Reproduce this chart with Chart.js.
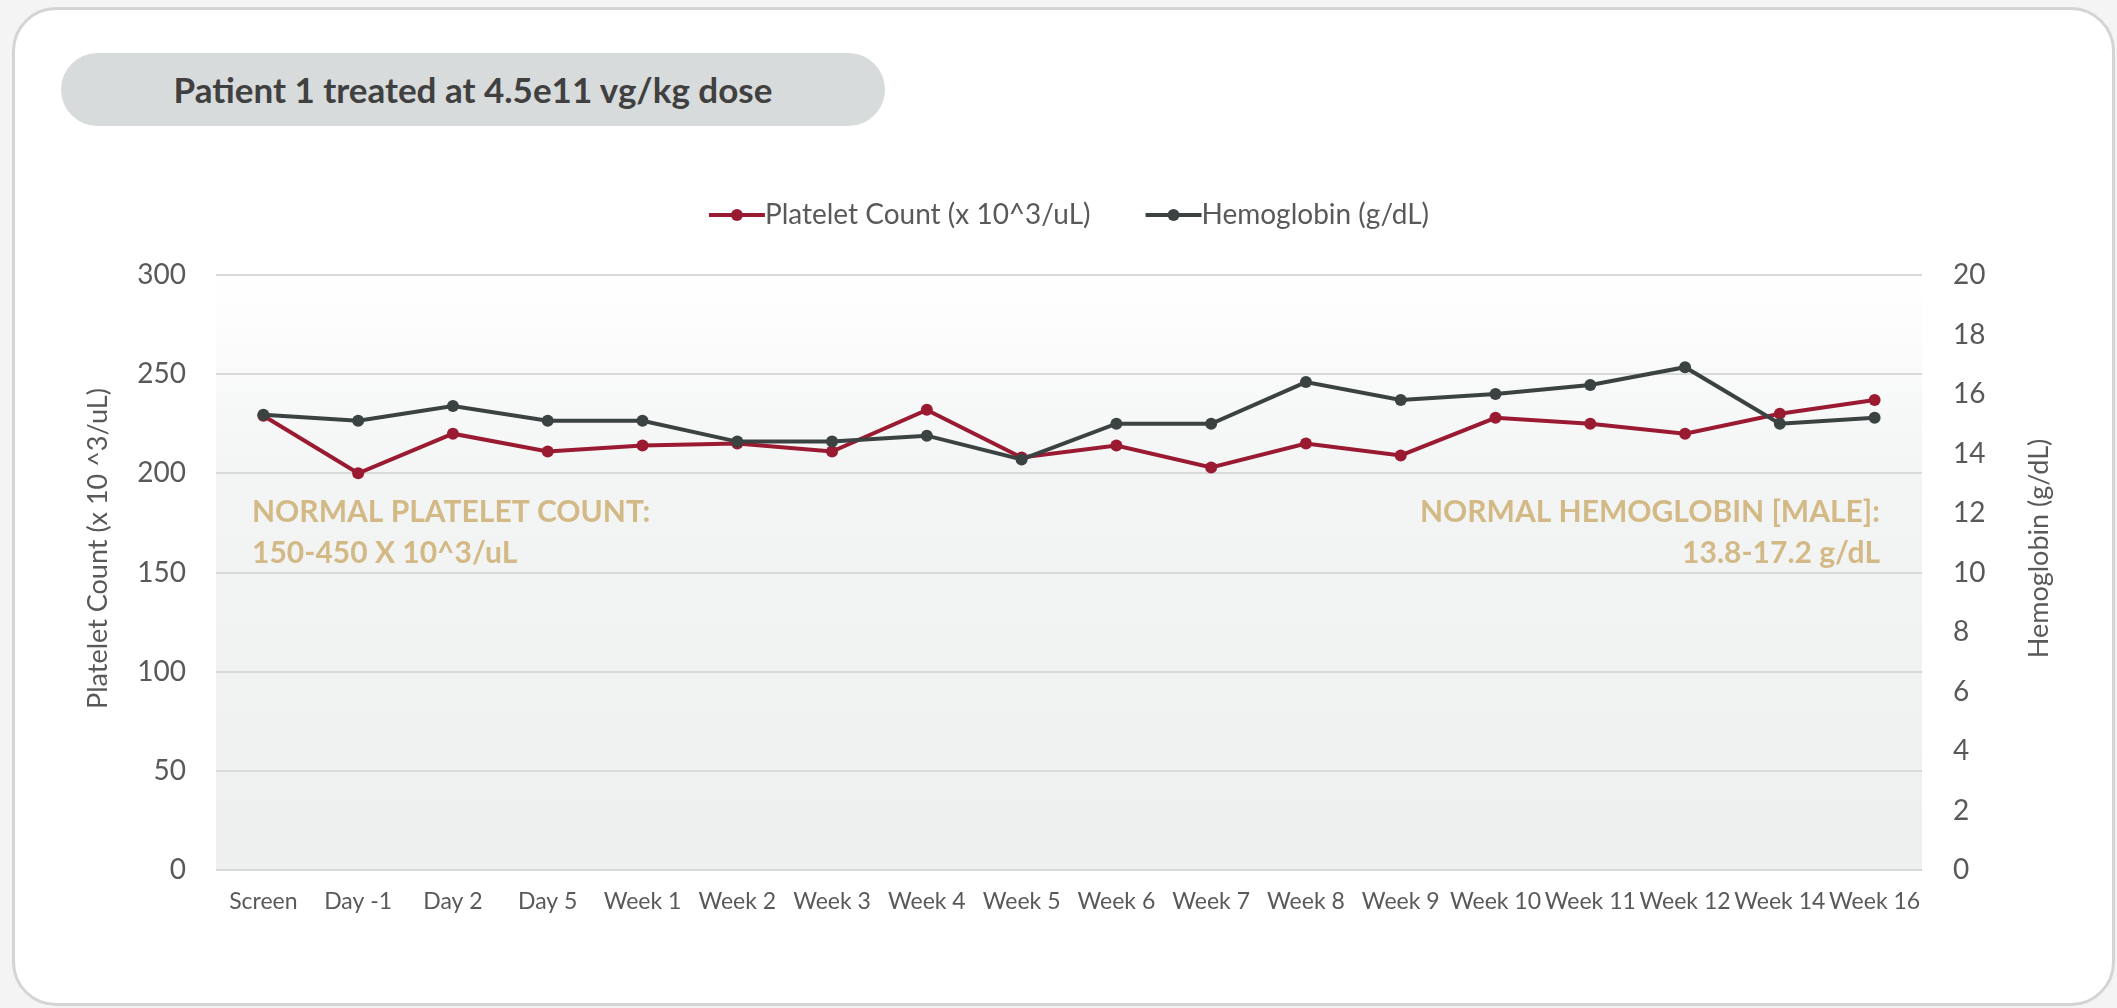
<!DOCTYPE html>
<html>
<head>
<meta charset="utf-8">
<script src="https://cdn.jsdelivr.net/npm/chart.js@4.4.0/dist/chart.umd.min.js"></script>
<style>
    html, body { margin: 0; padding: 0; }
    body {
        width: 2117px; height: 1008px; overflow: hidden; position: relative;
        background: #f4f4f4; font-family: Lato, "Open Sans", sans-serif;
    }
    .card {
        position: absolute; left: 12px; top: 7px; width: 2097px; height: 993px;
        background: #fff; border: 3px solid #d4d4d4; border-radius: 44px;
    }
    .pill {
        position: absolute; left: 61px; top: 53px; width: 824px; height: 73px;
        line-height: 73px; border-radius: 37px; background: #d8dbdb;
        color: #404040; font-weight: bold; font-size: 35px; text-align: center;
    }
    .wrap { position: absolute; left: 0; top: 0; width: 2117px; height: 1008px; }
</style>
</head>
<body>
<div class="card"></div>
<div class="pill">Patient 1 treated at 4.5e11 vg/kg dose</div>
<div class="wrap"><canvas id="labChart"></canvas></div>

<script>
// Dữ liệu
const visits = ['Screen', 'Day -1', 'Day 2', 'Day 5', 'Week 1', 'Week 2', 'Week 3', 'Week 4', 'Week 5',
    'Week 6', 'Week 7', 'Week 8', 'Week 9', 'Week 10', 'Week 11', 'Week 12', 'Week 14', 'Week 16'];
const plateletCount = [229, 200, 220, 211, 214, 215, 211, 232, 208, 214, 203, 215, 209, 228, 225, 220, 230, 237];
const hemoglobin = [15.3, 15.1, 15.6, 15.1, 15.1, 14.4, 14.4, 14.6, 13.8, 15.0, 15.0, 16.4, 15.8, 16.0, 16.3, 16.9, 15.0, 15.2];
const plateletTicks = [0, 50, 100, 150, 200, 250, 300];
const hemoglobinTicks = [0, 2, 4, 6, 8, 10, 12, 14, 16, 18, 20];

const RED = '#9a1b31';
const DARK = '#3b4242';
const TAN = '#d3b986';
const GREY_TEXT = '#595959';

Chart.defaults.font.family = 'Lato, "Open Sans", sans-serif';
Chart.defaults.color = GREY_TEXT;

// Nền vùng vẽ (gradient trắng -> xám nhạt)
const plotBackground = {
    id: 'plotBackground',
    beforeDraw(chart) {
        const { ctx, chartArea: a } = chart;
        const g = ctx.createLinearGradient(0, a.top, 0, a.bottom);
        g.addColorStop(0, '#ffffff');
        g.addColorStop(0.35, '#f3f4f4');
        g.addColorStop(1, '#eef0ef');
        ctx.save();
        ctx.fillStyle = g;
        ctx.fillRect(a.left, a.top, a.right - a.left, a.bottom - a.top);
        ctx.restore();
    }
};

// Legend kiểu Excel: đường + chấm
const lineLegend = {
    id: 'lineLegend',
    afterDraw(chart) {
        const { ctx, chartArea: a } = chart;
        const swatch = 56, gap = 55, cy = 215;
        ctx.save();
        ctx.font = '28px Lato';
        const items = [...chart.data.datasets]
            .map(ds => ({ text: ds.label, color: ds.borderColor, w: swatch + ctx.measureText(ds.label).width }));
        const total = items.reduce((s, it) => s + it.w, 0) + gap * (items.length - 1);
        let x = (a.left + a.right) / 2 - total / 2;
        items.forEach(it => {
            ctx.strokeStyle = it.color;
            ctx.lineWidth = 4;
            ctx.beginPath();
            ctx.moveTo(x, cy);
            ctx.lineTo(x + swatch, cy);
            ctx.stroke();
            ctx.fillStyle = it.color;
            ctx.beginPath();
            ctx.arc(x + swatch / 2, cy, 6, 0, Math.PI * 2);
            ctx.fill();
            ctx.fillStyle = GREY_TEXT;
            ctx.textBaseline = 'middle';
            ctx.textAlign = 'left';
            ctx.fillText(it.text, x + swatch, cy);
            x += it.w + gap;
        });
        ctx.restore();
    }
};

// Tiêu đề trục (cả hai đều xoay -90 độ) và ghi chú giá trị bình thường
const sideTexts = {
    id: 'sideTexts',
    afterDraw(chart) {
        const { ctx, chartArea: a } = chart;
        const midY = (a.top + a.bottom) / 2 - 24;
        ctx.save();
        ctx.fillStyle = GREY_TEXT;
        ctx.font = '27px Lato';
        ctx.textAlign = 'center';
        ctx.textBaseline = 'middle';
        [[a.left - 118, 'Platelet Count (x 10 ^3/uL)'], [a.right + 117, 'Hemoglobin (g/dL)']].forEach(([x, t]) => {
            ctx.save();
            ctx.translate(x, midY);
            ctx.rotate(-Math.PI / 2);
            ctx.fillText(t, 0, 0);
            ctx.restore();
        });

        ctx.fillStyle = TAN;
        ctx.font = 'bold 30px Lato';
        ctx.textAlign = 'left';
        ctx.fillText('NORMAL PLATELET COUNT:', a.left + 36, 512);
        ctx.fillText('150-450 X 10^3/uL', a.left + 36, 553);
        ctx.textAlign = 'right';
        ctx.fillText('NORMAL HEMOGLOBIN [MALE]:', a.right - 42, 512);
        ctx.fillText('13.8-17.2 g/dL', a.right - 42, 553);
        ctx.restore();
    }
};

new Chart(document.getElementById('labChart'), {
    type: 'line',
    data: {
        labels: visits,
        datasets: [{
            label: 'Platelet Count (x 10^3/uL)',
            data: plateletCount,
            yAxisID: 'y',
            borderColor: RED,
            backgroundColor: RED,
            pointBackgroundColor: RED,
            borderWidth: 4,
            pointRadius: 6,
            pointBorderWidth: 0,
            tension: 0,
            order: 1
        }, {
            label: 'Hemoglobin (g/dL)',
            data: hemoglobin,
            yAxisID: 'y1',
            borderColor: DARK,
            backgroundColor: DARK,
            pointBackgroundColor: DARK,
            borderWidth: 4,
            pointRadius: 6,
            pointBorderWidth: 0,
            tension: 0,
            order: 0
        }]
    },
    options: {
        responsive: true,
        maintainAspectRatio: false,
        animation: false,
        layout: { padding: { top: 275, left: 0, right: 0, bottom: 0 } },
        scales: {
            x: {
                offset: true,
                grid: { display: false, drawTicks: false },
                border: { display: false },
                ticks: { autoSkip: false, maxRotation: 0, minRotation: 0, padding: 18, font: { size: 23 } },
                afterFit(s) { s.height = 138; }
            },
            y: {
                position: 'left',
                min: plateletTicks[0],
                max: plateletTicks[plateletTicks.length - 1],
                ticks: { stepSize: plateletTicks[1] - plateletTicks[0], padding: 30, font: { size: 28 } },
                grid: { color: '#d9d9d9', lineWidth: 2, drawTicks: false },
                border: { display: false },
                afterFit(s) { s.width = 216; }
            },
            y1: {
                position: 'right',
                min: hemoglobinTicks[0],
                max: hemoglobinTicks[hemoglobinTicks.length - 1],
                ticks: { stepSize: hemoglobinTicks[1] - hemoglobinTicks[0], padding: 31, font: { size: 28 } },
                grid: { display: false, drawTicks: false },
                border: { display: false },
                afterFit(s) { s.width = 195; }
            }
        },
        plugins: {
            legend: { display: false },
            tooltip: { enabled: false }
        }
    },
    plugins: [plotBackground, lineLegend, sideTexts]
});
</script>
</body>
</html>
